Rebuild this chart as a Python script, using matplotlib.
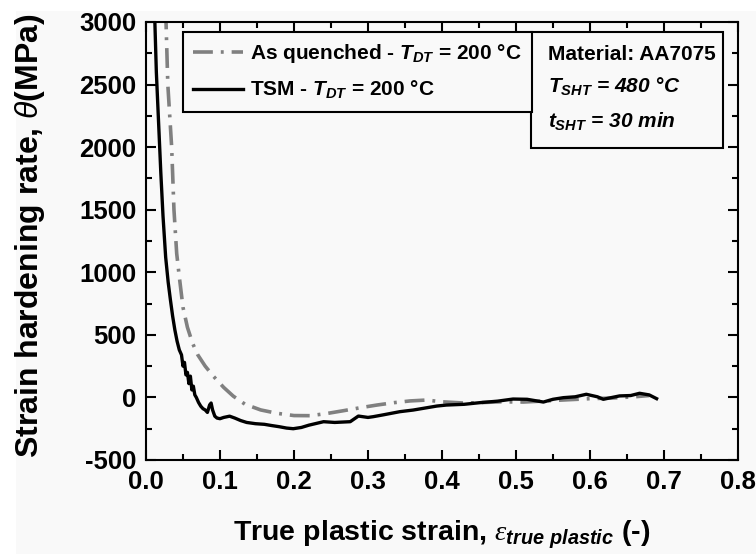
import matplotlib
matplotlib.use("Agg")
import matplotlib.pyplot as plt
from matplotlib.patches import Rectangle
from matplotlib.ticker import MultipleLocator

# strain hardening curves, theta vs true plastic strain (MPa)
aq_strain = [0.0266, 0.0295, 0.0347, 0.0378, 0.0415, 0.045, 0.050, 0.056, 0.063, 0.070,
             0.080, 0.091, 0.105, 0.118, 0.134, 0.155, 0.177, 0.200, 0.222, 0.245,
             0.267, 0.290, 0.312, 0.335, 0.357, 0.379, 0.400, 0.430, 0.450, 0.480,
             0.510, 0.540, 0.566, 0.600, 0.630, 0.660, 0.680]
aq_theta = [3100, 2500, 2000, 1500, 1150, 965, 720, 560, 432, 340,
            250, 170, 80, 10, -55, -100, -127, -145, -146, -128,
            -106, -82, -61, -42, -28, -21, -35, -45, -42, -35,
            -37, -28, -20, -10, -5, 5, 15]

tsm_strain = [0.0115, 0.014, 0.017, 0.020, 0.023, 0.0266, 0.030, 0.033, 0.036, 0.039,
              0.042, 0.045, 0.048, 0.050, 0.052, 0.054, 0.056, 0.058, 0.060, 0.062,
              0.064, 0.066, 0.068, 0.071, 0.074, 0.077, 0.080, 0.083, 0.086, 0.088,
              0.090, 0.093, 0.096, 0.100, 0.105, 0.113, 0.120, 0.128, 0.136, 0.148,
              0.160, 0.170, 0.180, 0.190, 0.199, 0.210, 0.220, 0.240, 0.255, 0.276,
              0.287, 0.300, 0.307, 0.320, 0.343, 0.361, 0.393, 0.406, 0.430, 0.451,
              0.475, 0.496, 0.515, 0.537, 0.550, 0.564, 0.580, 0.595, 0.610, 0.618,
              0.630, 0.640, 0.655, 0.667, 0.680, 0.690]
tsm_theta = [3100, 2600, 2200, 1800, 1450, 1120, 920, 780, 650, 540,
             450, 380, 340, 250, 280, 180, 200, 110, 170, 60,
             90, 20, 0, -40, -70, -90, -100, -120, -60, -45,
             -100, -150, -165, -170, -160, -150, -165, -185, -200, -210,
             -215, -225, -234, -245, -250, -240, -222, -194, -200, -194,
             -149, -160, -154, -140, -114, -101, -69, -61, -55, -42,
             -30, -13, -15, -37, -15, -2, 5, 25, 5, -15,
             0, 12, 15, 33, 20, -10]

x_ticks = [0.0, 0.1, 0.2, 0.3, 0.4, 0.5, 0.6, 0.7, 0.8]
y_ticks = [-500, 0, 500, 1000, 1500, 2000, 2500, 3000]

plt.rcParams.update({
    "font.family": "Liberation Sans",
    "font.weight": "bold",
    "axes.labelweight": "bold",
    "mathtext.fontset": "custom",
    "mathtext.rm": "Liberation Sans:bold",
    "mathtext.it": "Liberation Sans:italic:bold",
    "mathtext.bf": "Liberation Sans:bold",
    "mathtext.sf": "Liberation Sans:italic:normal",
    "mathtext.cal": "Liberation Serif:italic:normal",
})

BG = "#f9f9f9"

fig = plt.figure(figsize=(7.56, 5.54), dpi=100)
fig.patches.append(Rectangle((16 / 756, 0), 1, 1 - 11 / 554, transform=fig.transFigure,
                             fc=BG, ec="none", zorder=-10))
ax = fig.add_axes([0.1931, 0.1697, 0.7831, 0.7906])
ax.set_facecolor(BG)

ax.plot(aq_strain, aq_theta, color="#808080", lw=2.6, linestyle=(0, (5.5, 2.2, 0.8, 2.2)),
        label=r"As quenched - $T_{DT}$ = 200 °C")
ax.plot(tsm_strain, tsm_theta, color="black", lw=2.4,
        label=r"TSM - $T_{DT}$ = 200 °C")

ax.set_xlim(0, 0.8)
ax.set_ylim(-500, 3000)
ax.set_xticks(x_ticks)
ax.set_xticklabels([f"{v:.1f}" for v in x_ticks])
ax.set_yticks(y_ticks)
ax.set_yticklabels([str(v) for v in y_ticks])
ax.xaxis.set_minor_locator(MultipleLocator(0.05))
ax.yaxis.set_minor_locator(MultipleLocator(250))
ax.tick_params(which="both", direction="in", top=True, right=True, width=1.5, labelsize=18.5)
ax.tick_params(which="major", length=7)
ax.tick_params(which="minor", length=4)
ax.tick_params(axis="x", which="major", pad=7)
ax.tick_params(axis="y", which="major", pad=7)
for sp in ax.spines.values():
    sp.set_linewidth(1.5)

ax.set_xlabel(r"True plastic strain, $\mathcal{\varepsilon}_{true\ plastic}$ (-)", fontsize=20.5, labelpad=18)
ax.set_ylabel(r"Strain hardening rate, $\mathsf{\theta}$(MPa)", fontsize=23)
ax.yaxis.set_label_coords(-0.167, 0.513)

leg = ax.legend(loc="upper left", bbox_to_anchor=(0.0625, 0.977), borderaxespad=0,
                fancybox=False, edgecolor="black", facecolor=BG, framealpha=1,
                handlelength=2.4, handletextpad=0.3, fontsize=15, labelspacing=0.65,
                borderpad=0.5)
leg.get_frame().set_linewidth(1.5)

ax.add_patch(Rectangle((0.650, 0.712), 0.325, 0.265, transform=ax.transAxes,
                       fc=BG, ec="black", lw=1.5, zorder=5))
ax.text(0.679, 0.913, "Material: AA7075", transform=ax.transAxes, fontsize=15, zorder=6)
ax.text(0.679, 0.838, r"$T_{SHT}$ = 480 °C", transform=ax.transAxes, fontsize=15,
        style="italic", zorder=6)
ax.text(0.679, 0.758, r"$t_{SHT}$ = 30 min", transform=ax.transAxes, fontsize=15,
        style="italic", zorder=6)

fig.savefig("out.png", dpi=100, facecolor="white")
